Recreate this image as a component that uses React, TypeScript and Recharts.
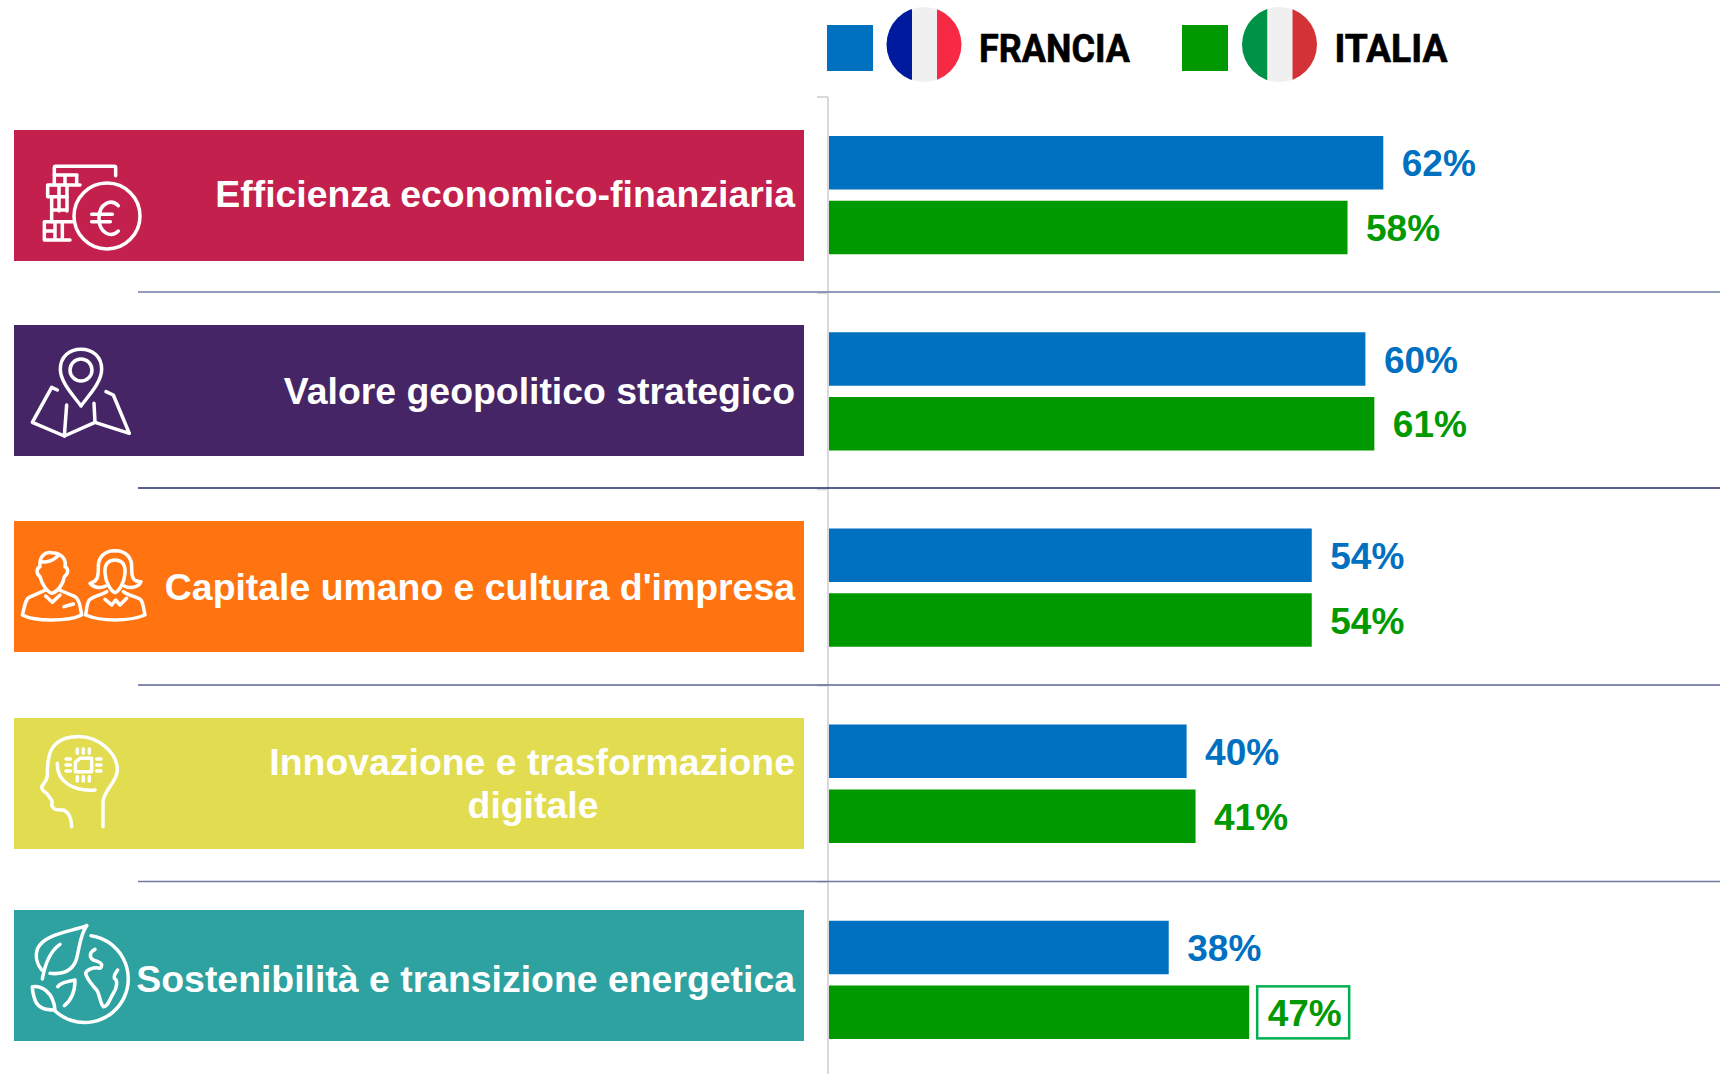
import { BarChart, Bar, XAxis, YAxis, LabelList, Legend } from "recharts";

const categoryLines = [
  ["Efficienza economico-finanziaria"],
  ["Valore geopolitico strategico"],
  ["Capitale umano e cultura d'impresa"],
  ["Innovazione e trasformazione", "digitale"],
  ["Sostenibilità e transizione energetica"],
];
const categories = categoryLines.map((lines) => lines.join(" "));
const franciaValues = [62, 60, 54, 40, 38];
const italiaValues = [58, 61, 54, 41, 47];
const highlightedItalia = "Sostenibilità e transizione energetica";

const chartData = categories.map((category, i) => ({
  category,
  Francia: franciaValues[i],
  Italia: italiaValues[i],
}));

const BLUE = "#0070c0";
const GREEN = "#009900";
const AXIS_GREY = "#d9d9d9";
const FONT = "'Liberation Sans', Arial, sans-serif";

const PLOT_TOP = 97;
const BAND = 196.2;

// panel look, one per row
const panelColors = ["#c4204e", "#452565", "#ff7410", "#e2dc50", "#2ea2a0"];
const panelTops = [130, 325, 521, 718, 910];
const textBaselines = [[207], [403.5], [600], [774.5, 818], [992]];
const separatorYs = [292, 488, 685, 881.5];
const separatorColors = ["#6f7aa3", "#1f2a63", "#5c6396", "#6f7aa3"];

const ICON_STROKE = { fill: "none", stroke: "#fff", strokeWidth: 10.5, strokeLinecap: "round", strokeLinejoin: "round" } as const;

// icons are traced in 3x pixels, see the scale(1/3) below
function Icon({ index }: { index: number }) {
  const origins = [[35, 155], [25, 340], [15, 540], [30, 725], [25, 915]];
  const [ox, oy] = origins[index];
  return (
    <g transform={`translate(${ox},${oy}) scale(${1 / 3})`} {...ICON_STROKE}>
      {index === 0 && (
        <>
          <path d="M242,62 V38 Q242,34 238,34 H62 Q58,34 58,38 V90" />
          <path d="M58,60 H126 M90,60 V90 M125,60 V90 M135,90 H38 V125 H96 M72,90 V125 M96,90 V125" />
          <path d="M50,125 V200 M72,125 V168 M96,125 V168 M50,165 H96" />
          <path d="M112,200 H28 V255 H105 M60,200 V255 M82,200 V255 M28,228 H60" />
          <circle cx={216} cy={183} r={99} />
          <path d="M250,152 C228,130 192,145 192,190 C192,235 228,250 250,228 M170,178 H232 M170,200 H226" />
        </>
      )}
      {index === 1 && (
        <>
          <path d="M168,198 C153,175 106,130 106,88 C106,50 133,28 168,28 C203,28 230,50 230,88 C230,130 183,175 168,198 Z" />
          <circle cx={168} cy={90} r={33} />
          <path d="M97,150 L80,142 L22,247 L118,288 L210,247 L313,280 L265,165 L243,155" />
          <path d="M125,195 L118,288 M207,190 L210,247" />
        </>
      )}
      {index === 2 && (
        <>
          <path d="M110,38 C85,35 72,55 75,80 C65,85 62,100 75,110 C80,130 95,155 110,160 C130,155 145,130 148,110 C162,100 160,85 150,80 C155,55 135,38 110,38 Z" />
          <path d="M80,65 C100,68 118,58 128,48" />
          <path d="M92,150 L42,172 C32,178 30,195 22,225 C60,245 160,245 200,225 C195,195 192,178 180,170 L133,150" />
          <path d="M92,168 L112,187 L135,165 M147,200 L175,192" />
          <path d="M300,32 C265,32 248,55 250,85 C250,115 245,125 225,130 C235,145 260,145 272,138" />
          <path d="M300,32 C335,32 352,55 350,85 C350,115 355,125 378,125 C370,145 340,145 328,138" />
          <path d="M300,60 C280,60 268,72 270,100 C272,130 290,155 300,158 C310,155 328,130 330,100 C332,72 320,60 300,60 Z" />
          <path d="M275,155 C250,170 225,170 220,185 C215,195 215,210 212,225 C260,245 340,245 390,225 C385,205 385,190 378,180 C370,170 345,170 325,155" />
          <path d="M270,178 L290,195 L302,180 L315,195 L335,175" />
        </>
      )}
      {index === 3 && (
        <>
          <path d="M125,305 C125,280 115,260 100,255 C80,255 70,255 65,240 C70,225 60,220 50,205 C42,200 35,195 35,185 C45,170 52,165 52,150 C52,100 55,40 135,35 C205,30 262,85 262,135 C262,170 222,195 219,230 L219,305" />
          <path d="M82,115 C80,170 130,200 195,195" />
          <path d="M150,100 L136,112 V140 H185 V100 Z" />
          <path d="M142,72 V85 M160,72 V85 M178,72 V85 M142,155 V168 M160,155 V168 M178,155 V168 M108,102 H121 M108,120 H121 M108,138 H121 M200,102 H213 M200,120 H213 M200,138 H213" />
        </>
      )}
      {index === 4 && (
        <>
          <path d="M185,32 C140,50 60,55 38,100 C28,125 38,150 50,165" />
          <path d="M185,32 C165,60 165,90 155,130 C145,165 120,180 75,175" />
          <path d="M105,88 C80,105 62,135 52,192" />
          <path d="M150,195 C120,200 105,205 98,215 M150,195 C150,230 140,255 118,272" />
          <path d="M22,215 C50,212 85,230 90,285 C60,285 40,280 30,255 C25,240 22,228 22,215 Z" />
          <path d="M198,62 A131,131 0 1 1 88,286" />
          <path d="M210,103 C195,110 190,125 205,135 C220,140 240,145 225,160 C205,155 185,165 182,175 C185,190 205,215 215,225 C225,240 225,265 235,275 C250,275 255,250 265,235 C275,220 280,195 268,190 C265,180 275,170 278,165" />
        </>
      )}
    </g>
  );
}

function CategoryTick({ y, index }: any) {
  const lines = categoryLines[index];
  const boundary = y + BAND / 2;
  return (
    <g>
      {index === 0 && <line x1={817} x2={828} y1={y - BAND / 2} y2={y - BAND / 2} stroke={AXIS_GREY} strokeWidth={2} />}
      <line x1={817} x2={828} y1={boundary} y2={boundary} stroke={AXIS_GREY} strokeWidth={2} />
      {index < separatorYs.length && (
        <line x1={138} x2={1720} y1={separatorYs[index]} y2={separatorYs[index]} stroke={separatorColors[index]} strokeWidth={1.3} />
      )}
      <rect x={14} y={panelTops[index]} width={790} height={131} fill={panelColors[index]} />
      <Icon index={index} />
      {lines.map((line, i) => (
        <text
          key={line}
          x={i === 0 ? 795 : 533}
          y={textBaselines[index][i]}
          textAnchor={i === 0 ? "end" : "middle"}
          fontFamily={FONT}
          fontWeight={700}
          fontSize={37.4}
          fill="#fff"
        >
          {line}
        </text>
      ))}
    </g>
  );
}

function ValueLabel({ x, y, width, height, value, index, color, boxed }: any) {
  const isBoxed = boxed && categories[index] === highlightedItalia;
  const left = x + width;
  const mid = y + height / 2;
  return (
    <g>
      {isBoxed && (
        <rect x={left + 8} y={mid - 26} width={92} height={52} fill="#fff" stroke="#00b050" strokeWidth={2.5} />
      )}
      <text x={left + 18.5} y={mid + 13.6} fontFamily={FONT} fontWeight={700} fontSize={37} fill={color}>
        {value}%
      </text>
    </g>
  );
}

function Flag({ cx, id, colors }: { cx: number; id: string; colors: string[] }) {
  return (
    <g>
      <clipPath id={id}>
        <circle cx={cx} cy={44.5} r={37.5} />
      </clipPath>
      <g clipPath={`url(#${id})`}>
        <rect x={cx - 38} y={6} width={26} height={77} fill={colors[0]} />
        <rect x={cx - 12} y={6} width={25} height={77} fill={colors[1]} />
        <rect x={cx + 13} y={6} width={26} height={77} fill={colors[2]} />
      </g>
    </g>
  );
}

function LegendContent({ payload }: any) {
  const layout: Record<string, { sq: number; cx: number; tx: number; tw: number; flag: string[] }> = {
    Francia: { sq: 827, cx: 924, tx: 979, tw: 151, flag: ["#001a9e", "#f0f0f0", "#f62a45"] },
    Italia: { sq: 1182, cx: 1279.5, tx: 1334.5, tw: 113, flag: ["#009246", "#f0f0f0", "#d33237"] },
  };
  return (
    <div style={{ position: "relative", height: 0 }}>
      <svg width={1727} height={90} style={{ position: "absolute", left: 0, top: 0 }}>
        {(payload ?? []).map((entry: any) => {
          const l = layout[entry.value];
          return (
            <g key={entry.value}>
              <rect x={l.sq} y={25} width={46} height={46} fill={entry.color} />
              <Flag cx={l.cx} id={`flag-${entry.value}`} colors={l.flag} />
              <text
                x={l.tx}
                y={62}
                fontFamily="Roboto, sans-serif"
                fontWeight={700}
                fontSize={38}
                textLength={l.tw}
                lengthAdjust="spacingAndGlyphs"
                fill="#000"
                stroke="#000"
                strokeWidth={0.6}
              >
                {entry.value.toUpperCase()}
              </text>
            </g>
          );
        })}
      </svg>
    </div>
  );
}

export default function App() {
  return (
    <div style={{ position: "absolute", left: 0, top: 0, width: 1727, height: 1074, overflow: "hidden", background: "#fff" }}>
      <BarChart
        width={1727}
        height={1078}
        data={chartData}
        layout="vertical"
        margin={{ top: PLOT_TOP, right: 4, bottom: 0, left: 0 }}
        barSize={53.5}
        barGap={11.3}
      >
        <XAxis type="number" domain={[0, 100]} hide />
        <YAxis
          type="category"
          dataKey="category"
          width={829}
          interval={0}
          tick={CategoryTick}
          tickLine={false}
          axisLine={{ stroke: AXIS_GREY, strokeWidth: 2, transform: "translate(-1,0)" }}
        />
        <Legend
          content={LegendContent}
          verticalAlign="top"
          height={0}
          wrapperStyle={{ left: 0, top: 0, width: 1727, height: 0 }}
        />
        <Bar dataKey="Francia" fill={BLUE} isAnimationActive={false}>
          <LabelList dataKey="Francia" content={(p: any) => <ValueLabel {...p} color={BLUE} />} />
        </Bar>
        <Bar dataKey="Italia" fill={GREEN} isAnimationActive={false}>
          <LabelList dataKey="Italia" content={(p: any) => <ValueLabel {...p} color={GREEN} boxed />} />
        </Bar>
      </BarChart>
    </div>
  );
}
